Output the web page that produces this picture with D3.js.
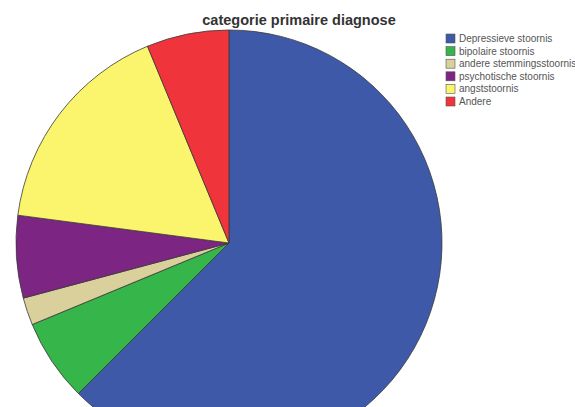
<!DOCTYPE html>
<html>
<head>
<meta charset="utf-8">
<script src="https://cdn.jsdelivr.net/npm/d3@7"></script>
<style>
  html, body { margin: 0; padding: 0; background: #fff; }
  svg { display: block; }
</style>
</head>
<body>
<svg id="chart" width="575" height="407"></svg>
<script>
// Diagnosis categories and patient counts
const categories = ["Depressieve stoornis", "bipolaire stoornis", "andere stemmingsstoornis",
                    "psychotische stoornis", "angststoornis", "Andere"];
const counts = [30, 3, 1, 3, 8, 3];
const colors = ["#3f59a9", "#35b54a", "#d9d09c", "#7d2583", "#fbf46d", "#ef343b"];
const title = "categorie primaire diagnose";

const svg = d3.select("#chart");
const cx = 229, cy = 243, radius = 213;

const color = d3.scaleOrdinal().domain(categories).range(colors);

const pie = d3.pie().sort(null).value(d => d.value);
const arc = d3.arc().innerRadius(0).outerRadius(radius);
const data = categories.map((c, i) => ({ name: c, value: counts[i] }));

svg.append("g")
  .attr("transform", `translate(${cx},${cy})`)
  .selectAll("path")
  .data(pie(data))
  .join("path")
  .attr("d", arc)
  .attr("fill", d => color(d.data.name))
  .attr("stroke", "#3a3a3a")
  .attr("stroke-width", 0.8);

svg.append("text")
  .attr("x", 299).attr("y", 25)
  .attr("text-anchor", "middle")
  .attr("font-family", "Liberation Sans, Arial, sans-serif")
  .attr("font-weight", "bold")
  .attr("font-size", 14.5)
  .attr("fill", "#333")
  .text(title);

// Legend
const legend = svg.append("g").attr("transform", "translate(446,34)");
const rows = legend.selectAll("g")
  .data(categories)
  .join("g")
  .attr("transform", (d, i) => `translate(0,${i * 12.6})`);
rows.append("rect")
  .attr("width", 9).attr("height", 9)
  .attr("fill", d => color(d))
  .attr("stroke", "#555").attr("stroke-width", 0.6);
rows.append("text")
  .attr("x", 13).attr("y", 8)
  .attr("font-family", "Liberation Sans, Arial, sans-serif")
  .attr("font-size", 10)
  .attr("fill", "#555")
  .text(d => d);
</script>
</body>
</html>
